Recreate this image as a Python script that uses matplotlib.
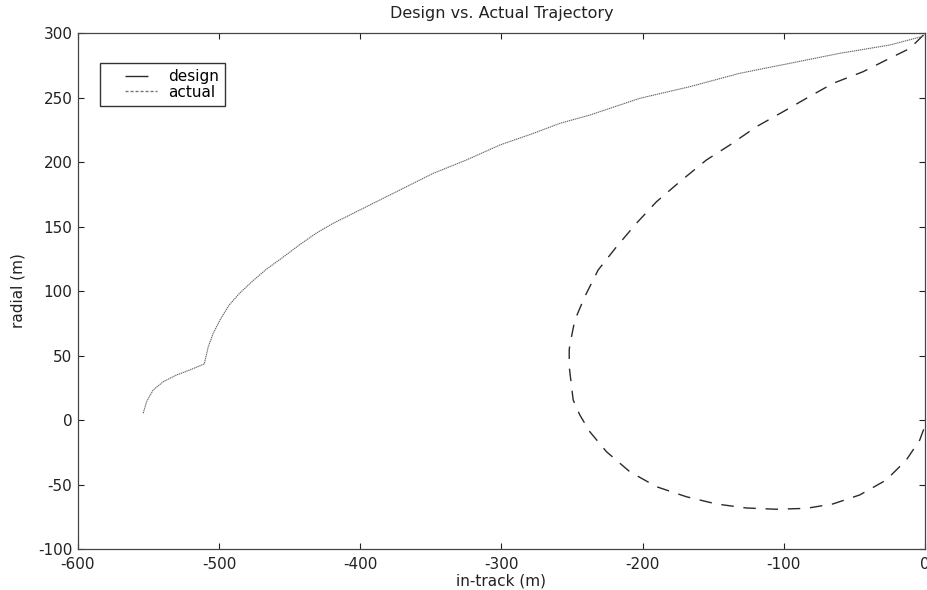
import numpy as np
import matplotlib.pyplot as plt
from matplotlib.lines import Line2D

plt.rcParams['font.family'] = ['DejaVu Sans']
plt.rcParams['axes.unicode_minus'] = False

# actual trajectory (left curve)
actual_x = [-553.8, -551.4, -546.7, -539.6, -530.2, -520.7, -512.4, -510.5,
            -507.7, -504.2, -499.4, -493.0, -485.3, -476.0, -466.4, -455.0,
            -442.8, -431.0, -419.2, -395.6, -372.0, -348.4, -324.8, -301.1,
            -277.5, -258.6, -237.4, -202.0, -166.6, -131.2, -95.8, -60.3,
            -25.0, -1.4]
actual_y = [5.2, 14.2, 23.3, 29.7, 34.9, 38.8, 42.6, 43.5,
            56.8, 67.2, 77.5, 89.0, 98.5, 108.0, 117.0, 126.0,
            136.0, 145.0, 152.5, 165.4, 178.3, 191.2, 201.6, 213.2,
            222.2, 230.0, 236.4, 249.4, 258.4, 268.8, 276.5, 284.3,
            290.7, 297.5]

# design trajectory (loop)
design_x = [-1.0, -10.8, -25.0, -43.9, -65.1, -84.0, -100.5, -119.4, -138.2,
            -154.8, -173.7, -190.2, -204.4, -218.5, -231.5, -241.0, -248.0,
            -251.6, -252.0, -252.0, -249.2, -244.5, -237.4, -225.6, -209.1,
            -190.2, -169.0, -147.8, -126.6, -105.3, -84.1, -65.3, -46.2,
            -27.4, -13.2, -3.7, -0.5]
design_y = [298.5, 288.0, 280.4, 270.0, 261.0, 249.4, 239.0, 227.4, 213.2,
            201.6, 184.7, 169.2, 152.5, 134.3, 116.3, 95.6, 77.5,
            58.1, 54.3, 41.3, 15.5, 3.9, -9.1, -24.6, -40.1,
            -51.7, -59.5, -65.1, -68.2, -69.2, -68.5, -65.1, -58.1,
            -46.5, -31.0, -15.5, -6.0]

fig = plt.figure(figsize=(9.27, 5.9), dpi=100)
ax = fig.add_axes([0.0841, 0.0695, 0.9137, 0.8745])

ax.plot(design_x, design_y, color='#2a2a2a', lw=1.0, linestyle=(0, (9, 7)))
ax.plot(actual_x, actual_y, color='#666666', lw=0.8, linestyle=(0, (1.2, 0.6)))

ax.set_xlim(-600, 0)
ax.set_ylim(-100, 300)
ax.set_xticks(np.arange(-600, 1, 100))
ax.set_yticks(np.arange(-100, 301, 50))
ax.tick_params(direction='in', length=4.5, width=0.8, top=True, right=True,
               labelsize=11, colors='#222222')
ax.tick_params(axis='x', pad=6)
ax.tick_params(axis='y', pad=4)
for s in ax.spines.values():
    s.set_linewidth(0.9)
    s.set_color('#444444')

ax.set_title('Design vs. Actual Trajectory', fontsize=11.5, pad=11, color='#222222')
ax.set_xlabel('in-track (m)', fontsize=11, labelpad=1, color='#222222')
ax.set_ylabel('radial (m)', fontsize=11, labelpad=9, color='#222222')

# legend samples start after a blank gap, like the original
handles = [Line2D([], [], color='#2a2a2a', lw=1.0,
                  linestyle=(16.5, (16.5, 13.7))),
           Line2D([], [], color='#777777', lw=1.0,
                  linestyle=(sum([2.2, 1.4] * 8) + 2.2,
                             tuple([2.2, 1.4] * 8 + [2.2, 13.7])))]
ax.legend(handles, ['design', 'actual'], loc='upper left',
          bbox_to_anchor=(0.026, 0.942), fancybox=False, edgecolor='#333333',
          framealpha=1, fontsize=11, handlelength=3.3, handletextpad=0.75,
          borderpad=0.4, labelspacing=0.05, borderaxespad=0)

fig.savefig('out.png', dpi=100)
